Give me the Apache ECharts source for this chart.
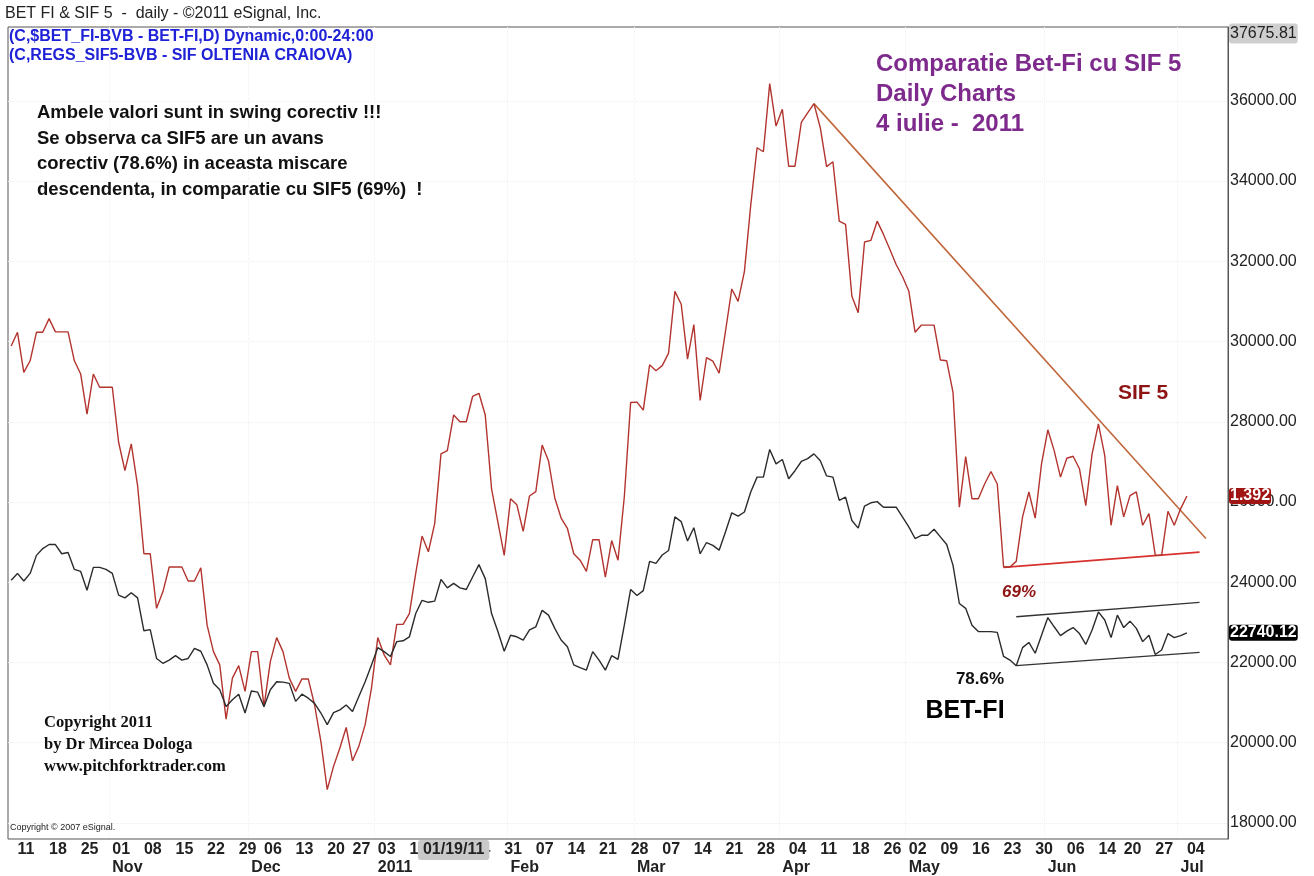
<!DOCTYPE html>
<html>
<head>
<meta charset="utf-8">
<title>BET FI & SIF 5 - daily</title>
<script src="https://cdn.jsdelivr.net/npm/echarts@6/dist/echarts.min.js"></script>
<style>
  html, body { margin: 0; padding: 0; background: #fff; }
  #chart { width: 1314px; height: 876px; }
</style>
</head>
<body>
<div id="chart"></div>
<script>
// trading calendar (BVB), first day and market holidays
const firstDay = "2010-10-08"
const holidays = ["2010-12-01", "2010-12-24", "2010-12-31", "2011-04-25", "2011-06-13"]
const dayCount = 193
const monthNames = ["2011", "Feb", "Mar", "Apr", "May", "Jun", "Jul", "Aug", "Sep", "Oct", "Nov", "Dec"]

// daily closes (axis units)
const sif5 = [
  29890, 30230, 29230, 29520, 30230, 30230, 30570, 30240, 30240, 30240,
  29520, 29190, 28190, 29190, 28860, 28860, 28860, 27490, 26780, 27450,
  26410, 24710, 24710, 23350, 23760, 24380, 24380, 24380, 24030, 24030,
  24360, 22930, 22270, 21940, 20590, 21610, 21920, 21280, 22270, 22270,
  20900, 22020, 22620, 22270, 21610, 21280, 21590, 21590, 20940, 20030,
  18830, 19410, 19870, 20380, 19550, 19910, 20450, 21360, 22620, 22190,
  21940, 22950, 22950, 23220, 24220, 25150, 24760, 25460, 27200, 27280,
  28170, 28000, 28000, 28630, 28710, 28170, 26330, 25500, 24670, 26080,
  25930, 25270, 26150, 26260, 27420, 27030, 26100, 25600, 25340, 24710,
  24550, 24270, 25060, 25060, 24130, 25040, 24550, 26130, 28480, 28490,
  28290, 29420, 29270, 29400, 29710, 31250, 30930, 29560, 30420, 28530,
  29600, 29510, 29210, 30250, 31310, 31000, 31750, 33400, 34830, 34730,
  36430, 35370, 35790, 34370, 34370, 35460, 35700, 35930, 35330, 34360,
  34480, 33000, 32920, 31130, 30720, 32480, 32520, 33000, 32670, 32300,
  31920, 31620, 31260, 30230, 30410, 30410, 30410, 29540, 29520, 28730,
  25870, 27130, 26080, 26080, 26450, 26760, 26450, 24380, 24380, 24520,
  25630, 26250, 25600, 26950, 27800, 27280, 26620, 27090, 27140, 26830,
  25910, 27200, 27950, 27160, 25420, 26410, 25630, 26160, 26250, 25420,
  25710, 24670, 24670, 25770, 25420, 25830, 26150,
]
const betfi = [
  24050, 24220, 24030, 24220, 24670, 24840, 24940, 24940, 24710, 24740,
  24320, 24270, 23800, 24370, 24370, 24320, 24220, 23680, 23610, 23740,
  23610, 22790, 22820, 22100, 21980, 22060, 22170, 22060, 22100, 22350,
  22280, 21940, 21480, 21320, 20900, 21070, 21210, 20740, 21290, 21260,
  20900, 21320, 21520, 21510, 21480, 21030, 21210, 21110, 20980, 20740,
  20450, 20750, 20820, 20940, 20780, 21150, 21520, 21940, 22370, 22270,
  22150, 22520, 22540, 22640, 23220, 23550, 23500, 23530, 24070, 23860,
  23970, 23860, 23820, 24130, 24440, 24090, 23220, 22770, 22280, 22680,
  22640, 22560, 22810, 22890, 23300, 23180, 22850, 22560, 22390, 21940,
  21870, 21810, 22270, 22060, 21810, 22170, 22080, 22930, 23820, 23670,
  23790, 24520, 24470, 24680, 24790, 25630, 25510, 25030, 25360, 24710,
  24990, 24920, 24800, 25250, 25730, 25650, 25750, 26250, 26620, 26620,
  27310, 26950, 27060, 26580, 26780, 27010, 27080, 27200, 27030, 26650,
  26620, 26040, 26120, 25540, 25350, 25900, 25980, 26010, 25870, 25870,
  25870, 25630, 25380, 25090, 25170, 25170, 25320, 25130, 24940, 24420,
  23470, 23350, 22930, 22770, 22770, 22770, 22750, 22150, 22060, 21920,
  22370, 22500, 22230, 22680, 23120, 22890, 22670, 22780, 22870, 22720,
  22450, 22810, 23260, 23060, 22620, 23180, 22870, 23030, 22850, 22520,
  22680, 22200, 22310, 22720, 22620, 22670, 22740,
]

// hand-drawn lines: [day index, value]
const sifResistance = [[127, 35930], [189, 25090]]
const sifSupport = [[157, 24370], [188, 24750]]
const betUpper = [[159, 23140], [188, 23500]]
const betLower = [[159, 21920], [188, 22250]]

const yTicks = [18000, 20000, 22000, 24000, 26000, 28000, 30000, 32000, 34000, 36000]
const yHigh = 37675.81
const sif5LastPrice = "1.392"
const betfiLastClose = 22740.12
const cursorDay = "2011-01-19"

function buildDays() {
  const out = []
  let t = Date.parse(firstDay + "T00:00:00Z")
  while (out.length < dayCount) {
    const d = new Date(t)
    const iso = d.toISOString().slice(0, 10)
    const wd = d.getUTCDay()
    if (wd !== 0 && wd !== 6 && !holidays.includes(iso)) out.push(iso)
    t += 86400000
  }
  return out
}

const days = buildDays()

function isWeekStart(i) {
  if (i === 0 || i >= sif5.length) return false
  const cur = new Date(days[i] + "T00:00:00Z")
  const prev = new Date(days[i - 1] + "T00:00:00Z")
  return cur.getUTCDay() < prev.getUTCDay() || cur - prev >= 7 * 86400000
}

function isMonthStart(i) {
  if (i === 0 || i >= sif5.length) return false
  return days[i].slice(5, 7) !== days[i - 1].slice(5, 7)
}

function monthLabel(v) {
  const m = +v.slice(5, 7)
  return m === 1 ? v.slice(0, 4) : monthNames[m - 1]
}

const SANS = '"Liberation Sans", Arial, sans-serif'
const SERIF = '"Liberation Serif", "Times New Roman", serif'

function note(x, y, text, font, fill, align) {
  return {
    type: "text",
    x: x,
    y: y,
    silent: true,
    z: 10,
    style: { text: text, font: font, fill: fill, align: align || "left", verticalAlign: "middle" },
  }
}

function hiddenY(value, text, bg) {
  return {
    type: "value",
    position: "right",
    min: 17600,
    max: 37840,
    axisLine: { show: false },
    axisTick: { show: false },
    axisLabel: { show: false },
    splitLine: { show: false },
    axisPointer: {
      show: true,
      status: "show",
      value: value,
      triggerTooltip: false,
      lineStyle: { opacity: 0 },
      label: {
        show: true,
        formatter: () => text,
        backgroundColor: bg,
        color: "#fff",
        fontFamily: SANS,
        fontSize: 16,
        fontWeight: "bold",
        padding: [0, 1, 0, 1],
        margin: 1,
      },
    },
  }
}

const chart = echarts.init(document.getElementById("chart"))

chart.setOption({
  animation: false,
  backgroundColor: "#ffffff",
  axisPointer: { triggerOn: "none" },
  grid: { left: 8, right: 86, top: 27, bottom: 35, show: true, borderColor: "#555", borderWidth: 1 },
  xAxis: [
    {
      type: "category",
      data: days,
      boundaryGap: true,
      axisLine: { show: false },
      axisTick: { show: false },
      splitLine: { show: false },
      axisLabel: {
        interval: (i) => isWeekStart(i),
        formatter: (v) => v.slice(8, 10),
        align: "left",
        margin: 3,
        color: "#222",
        fontFamily: SANS,
        fontSize: 16,
        fontWeight: "bold",
      },
      axisPointer: {
        show: true,
        status: "show",
        value: days.indexOf(cursorDay),
        triggerTooltip: false,
        lineStyle: { opacity: 0 },
        label: {
          show: true,
          formatter: () => cursorDay.slice(5, 7) + "/" + cursorDay.slice(8, 10) + "/" + cursorDay.slice(2, 4),
          backgroundColor: "#c9c9c9",
          color: "#222",
          fontFamily: SANS,
          fontSize: 16,
          fontWeight: "bold",
          padding: [2, 5, 2, 5],
          margin: 1,
        },
      },
    },
    {
      type: "category",
      data: days,
      boundaryGap: true,
      position: "bottom",
      axisLine: { show: false },
      axisTick: { show: false },
      splitLine: { show: true, interval: (i) => isMonthStart(i), lineStyle: { color: "#f1f1f1", type: "dotted" } },
      axisLabel: {
        interval: (i) => isMonthStart(i),
        formatter: monthLabel,
        align: "left",
        margin: 21,
        color: "#222",
        fontFamily: SANS,
        fontSize: 16,
        fontWeight: "bold",
      },
    },
  ],
  yAxis: [
    {
      type: "value",
      position: "right",
      min: 17600,
      max: 37840,
      axisLine: { show: true, lineStyle: { color: "#555", width: 1 } },
      axisTick: { show: false, customValues: yTicks },
      splitLine: { show: true, lineStyle: { color: "#eeeeee", type: "dotted" } },
      axisLabel: {
        customValues: yTicks,
        formatter: (v) => v.toFixed(2),
        margin: 2,
        color: "#222",
        fontFamily: SANS,
        fontSize: 16,
      },
      axisPointer: {
        show: true,
        status: "show",
        value: yHigh,
        triggerTooltip: false,
        lineStyle: { opacity: 0 },
        label: {
          show: true,
          formatter: () => yHigh.toFixed(2),
          backgroundColor: "#cfcfcf",
          color: "#222",
          fontFamily: SANS,
          fontSize: 16,
          padding: [2, 1, 2, 1],
          margin: 1,
        },
      },
    },
    hiddenY(sif5[sif5.length - 1], sif5LastPrice, "#a01414"),
    hiddenY(betfi[betfi.length - 1], betfiLastClose.toFixed(2), "#000000"),
  ],
  series: [
    {
      name: "SIF 5",
      type: "line",
      data: sif5,
      showSymbol: false,
      lineStyle: { color: "#b3342e", width: 1.4 },
      z: 3,
    },
    {
      name: "BET-FI",
      type: "line",
      data: betfi,
      showSymbol: false,
      lineStyle: { color: "#2b2b2b", width: 1.4 },
      z: 3,
    },
    {
      name: "SIF 5 resistance",
      type: "line",
      data: sifResistance,
      showSymbol: false,
      lineStyle: { color: "#c0683c", width: 1.6 },
      z: 2,
    },
    {
      name: "SIF 5 support",
      type: "line",
      data: sifSupport,
      showSymbol: false,
      lineStyle: { color: "#d8322e", width: 1.6 },
      z: 2,
    },
    {
      name: "BET-FI channel top",
      type: "line",
      data: betUpper,
      showSymbol: false,
      lineStyle: { color: "#333", width: 1.3 },
      z: 2,
    },
    {
      name: "BET-FI channel bottom",
      type: "line",
      data: betLower,
      showSymbol: false,
      lineStyle: { color: "#333", width: 1.3 },
      z: 2,
    },
  ],
  graphic: [
    note(5, 14, "BET FI & SIF 5  -  daily - \u00a92011 eSignal, Inc.", "16px " + SANS, "#222"),
    note(9, 37, "(C,$BET_FI-BVB - BET-FI,D) Dynamic,0:00-24:00", "bold 16px " + SANS, "#1f22d6"),
    note(9, 56, "(C,REGS_SIF5-BVB - SIF OLTENIA CRAIOVA)", "bold 16px " + SANS, "#1f22d6"),
    note(37, 113, "Ambele valori sunt in swing corectiv !!!", "bold 18.5px " + SANS, "#111"),
    note(37, 139, "Se observa ca SIF5 are un avans", "bold 18.5px " + SANS, "#111"),
    note(37, 164, "corectiv (78.6%) in aceasta miscare", "bold 18.5px " + SANS, "#111"),
    note(37, 190, "descendenta, in comparatie cu SIF5 (69%)  !", "bold 18.5px " + SANS, "#111"),
    note(876, 64, "Comparatie Bet-Fi cu SIF 5", "bold 24px " + SANS, "#7d2a8c"),
    note(876, 94, "Daily Charts", "bold 24px " + SANS, "#7d2a8c"),
    note(876, 124, "4 iulie -  2011", "bold 24px " + SANS, "#7d2a8c"),
    note(1143, 393, "SIF 5", "bold 21px " + SANS, "#8e1414", "center"),
    note(1019, 592, "69%", "italic bold 17px " + SANS, "#8e1414", "center"),
    note(980, 679, "78.6%", "bold 17px " + SANS, "#111", "center"),
    note(965, 711, "BET-FI", "bold 25px " + SANS, "#000", "center"),
    note(44, 723, "Copyright 2011", "bold 16.5px " + SERIF, "#111"),
    note(44, 745, "by Dr Mircea Dologa", "bold 16.5px " + SERIF, "#111"),
    note(44, 767, "www.pitchforktrader.com", "bold 16.5px " + SERIF, "#111"),
    note(10, 828, "Copyright \u00a9 2007 eSignal.", "9px " + SANS, "#222"),
  ],
})
</script>
</body>
</html>
